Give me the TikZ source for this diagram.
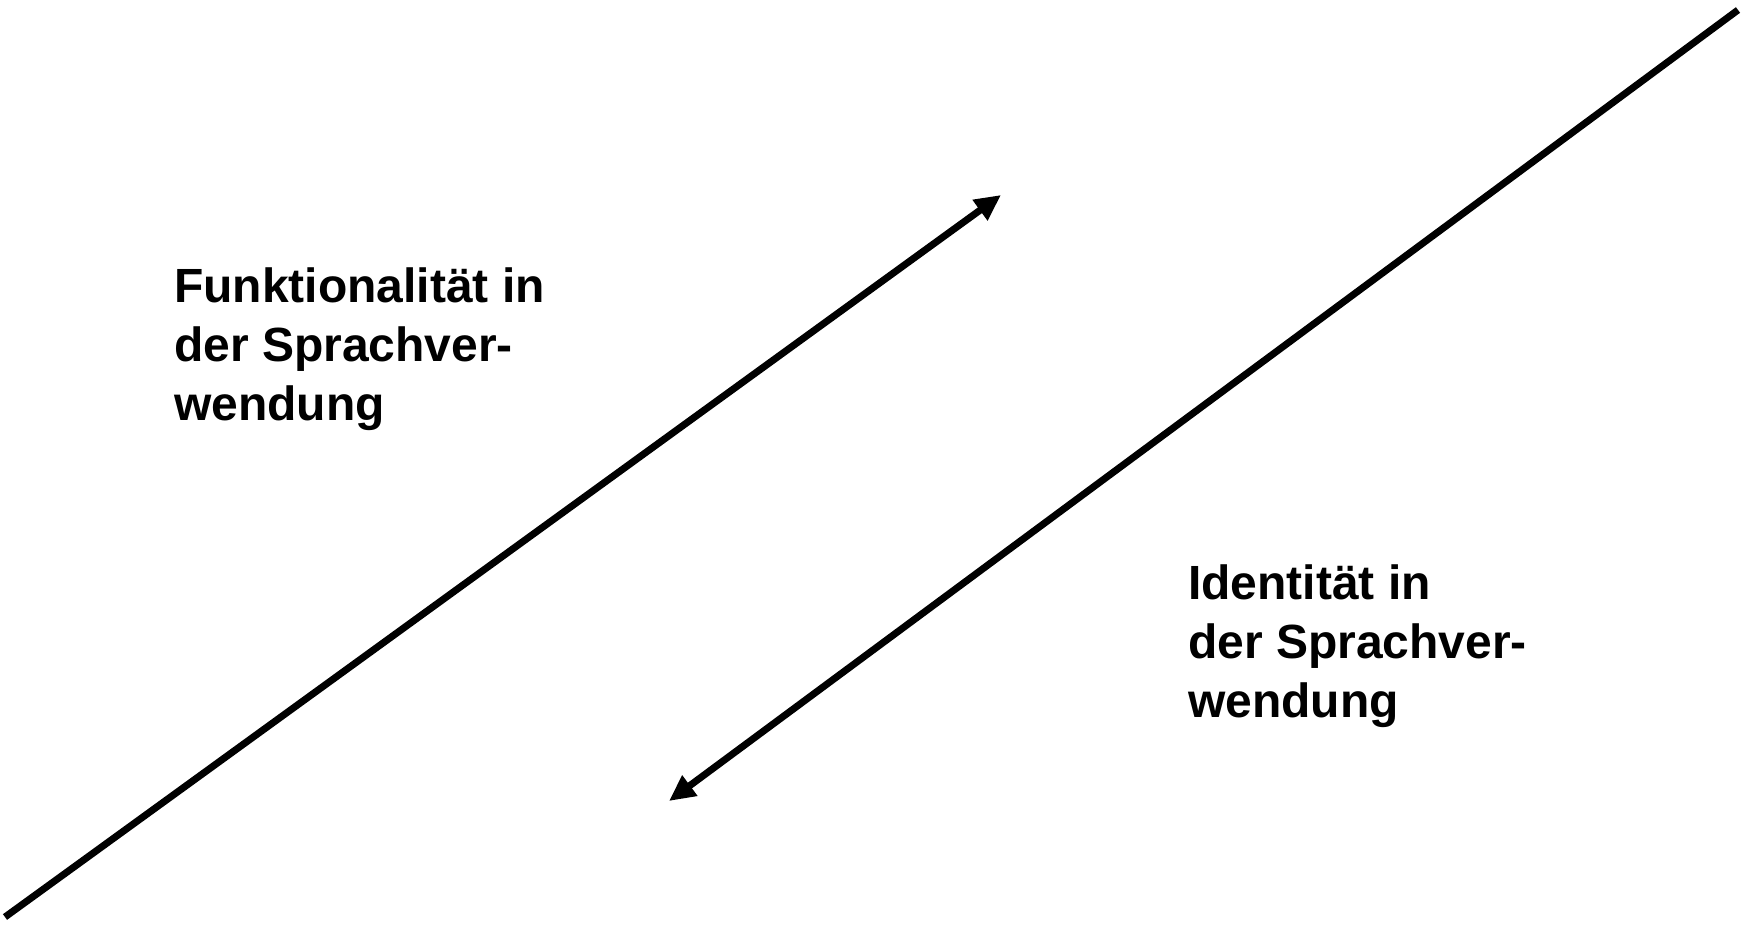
\documentclass[tikz,border=0pt]{standalone}
\usepackage{fontspec}
\setmainfont{Liberation Sans}
\usetikzlibrary{arrows.meta}
\begin{document}
\begin{tikzpicture}[x=1pt,y=-1pt,
  lbl/.style={anchor=north west,inner sep=0pt,align=left,font=\bfseries\fontsize{48}{59}\selectfont},
  conn/.style={line width=7pt,-{Triangle[length=26pt,width=24pt]}}]
\useasboundingbox (0,0) rectangle (1761,928);
\coordinate (a0) at (5,917);
\coordinate (a1) at (1001,195);
\coordinate (b0) at (1738,10);
\coordinate (b1) at (669,801);
\draw[conn] (a0) -- (a1);
\draw[conn] (b0) -- (b1);
\node[lbl] (f) at (174,268) {Funktionalität in\\der Sprachver-\\wendung};
\node[lbl] (i) at (1188,565) {Identität in\\der Sprachver-\\wendung};
\end{tikzpicture}
\end{document}
